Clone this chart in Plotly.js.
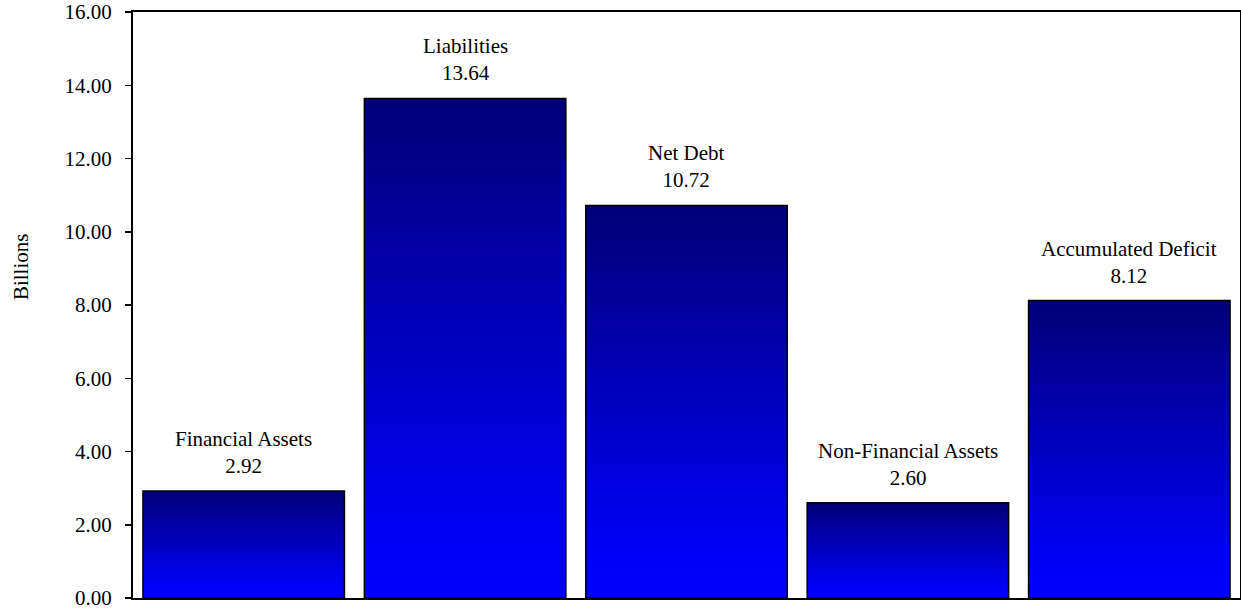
<!DOCTYPE html>
<html>
<head>
<meta charset="utf-8">
<script src="https://cdn.plot.ly/plotly-3.0.1.min.js"></script>
<style>
  html, body { margin: 0; padding: 0; background: #fff; }
  #chart { width: 1241px; height: 615px; }
</style>
</head>
<body>
<div id="chart"></div>
<script>
// ---- data ----
const categories = ["Financial Assets", "Liabilities", "Net Debt", "Non-Financial Assets", "Accumulated Deficit"];
const values = [2.92, 13.64, 10.72, 2.60, 8.12];
const yTickValues = [0, 2, 4, 6, 8, 10, 12, 14, 16];
const yAxisLabel = "Billions";

const FONT = "'Liberation Serif', 'Times New Roman', serif";

const trace = {
  type: "bar",
  x: categories,
  y: values,
  marker: { color: "#0000c0", line: { color: "#000000", width: 1.5 } },
  hoverinfo: "none"
};

const annotations = categories.map((c, i) => ({
  x: c, y: values[i], xref: "x", yref: "y",
  text: c + "<br>" + values[i].toFixed(2),
  showarrow: false, yanchor: "bottom", yshift: 11,
  font: { family: FONT, size: 21, color: "#000" }
}));
annotations.push({
  xref: "paper", yref: "paper", x: -0.101, y: 0.565,
  xanchor: "center", yanchor: "middle",
  text: yAxisLabel, textangle: -90, showarrow: false,
  font: { family: FONT, size: 21, color: "#000" }
});

const layout = {
  width: 1241, height: 615,
  margin: { l: 133, r: 1, t: 12, b: 17, pad: 0 },
  paper_bgcolor: "#ffffff", plot_bgcolor: "#ffffff",
  showlegend: false,
  bargap: 0.09,
  font: { family: FONT, size: 21, color: "#000" },
  xaxis: {
    type: "category", range: [-0.5, 4.5],
    showticklabels: false, ticks: "",
    showline: true, mirror: true, linecolor: "#000", linewidth: 2,
    showgrid: false, zeroline: false, layer: "below traces"
  },
  yaxis: {
    range: [0, 16], tickvals: yTickValues, tickformat: ".2f",
    ticks: "outside", ticklen: 6, tickwidth: 1.5, tickcolor: "#000",
    ticklabelstandoff: 9,
    showline: true, mirror: true, linecolor: "#000", linewidth: 2,
    showgrid: false, zeroline: false,
    tickfont: { family: FONT, size: 21, color: "#000" }
  },
  annotations: annotations
};

function applyGradient(gd) {
  const svgNS = "http://www.w3.org/2000/svg";
  const svg = gd.querySelector("svg.main-svg");
  if (!svg) return 0;
  let defs = svg.querySelector("defs");
  if (!defs) { defs = document.createElementNS(svgNS, "defs"); svg.insertBefore(defs, svg.firstChild); }
  if (!svg.querySelector("#barGrad")) {
    const grad = document.createElementNS(svgNS, "linearGradient");
    grad.setAttribute("id", "barGrad");
    grad.setAttribute("x1", "0"); grad.setAttribute("y1", "0");
    grad.setAttribute("x2", "0"); grad.setAttribute("y2", "1");
    [["0", "#000078"], ["0.85", "#0000f4"], ["1", "#0000ff"]].forEach(([o, c]) => {
      const s = document.createElementNS(svgNS, "stop");
      s.setAttribute("offset", o); s.setAttribute("stop-color", c);
      grad.appendChild(s);
    });
    defs.appendChild(grad);
  }
  const paths = gd.querySelectorAll("g.bars path");
  paths.forEach(p => {
    p.style.setProperty("fill", "url(#barGrad)", "important");
    p.setAttribute("fill", "url(#barGrad)");
  });
  return paths.length;
}

const gdEl = document.getElementById("chart");
Plotly.newPlot(gdEl, [trace], layout, { staticPlot: true, displayModeBar: false }).then(gd => {
  applyGradient(gd);
  gd.on && gd.on("plotly_afterplot", () => applyGradient(gd));
  setTimeout(() => applyGradient(gd), 50);
});
</script>
</body>
</html>
